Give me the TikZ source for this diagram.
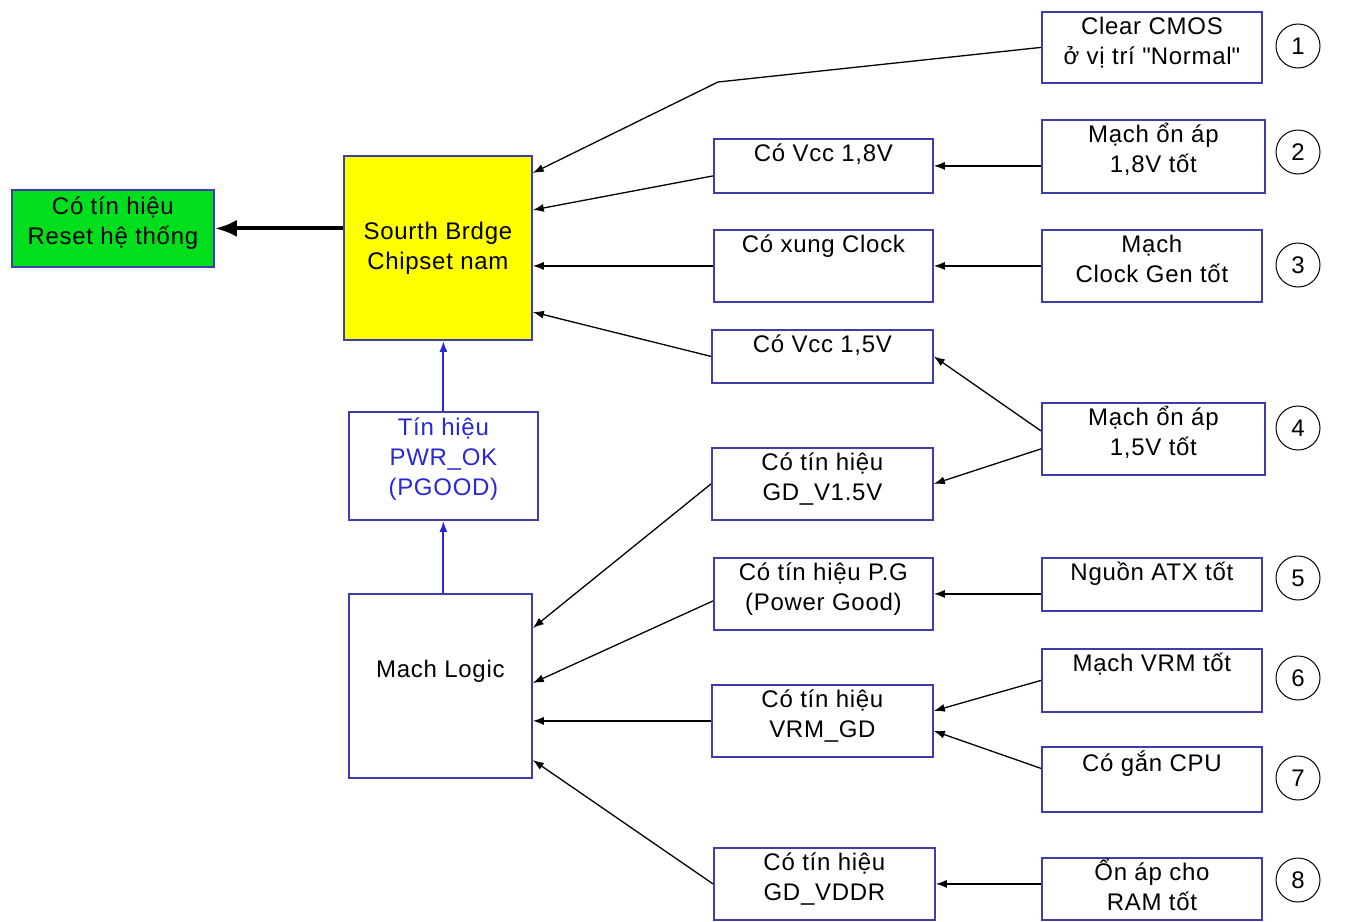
\documentclass[tikz,border=0pt]{standalone}
\usepackage{fontspec}
\setmainfont[LetterSpace=3]{Liberation Sans}
\usepackage{tikz}
\usetikzlibrary{arrows.meta, positioning, calc}

\definecolor{boxblue}{RGB}{62,62,170}
\definecolor{sigblue}{RGB}{40,40,215}
\definecolor{resetgreen}{RGB}{0,222,30}
\definecolor{sbyellow}{RGB}{255,255,0}

\begin{document}
\begin{tikzpicture}[x=1pt, y=-1pt,
  box/.style={draw=boxblue, line width=1.8pt, anchor=north west, inner sep=0pt},
  txt/.style={align=center, inner sep=0pt, font=\fontsize{24}{30}\selectfont},
  num/.style={circle, draw=black, line width=1pt, minimum size=44pt, inner sep=0pt, font=\fontsize{24}{30}\selectfont},
  arr/.style={line width=1.3pt, -{Latex[length=11pt,width=8pt]}},
  sigarr/.style={sigblue, line width=2pt, -{Latex[length=11pt,width=8pt]}},
  mainarr/.style={line width=4pt, -{Latex[length=22pt,width=17pt]}}
]
  \useasboundingbox[fill=white] (0,0) rectangle (1349,921);

  % Left column
  \node[box, fill=resetgreen, minimum width=202pt, minimum height=77pt] (reset) at (11,189) {};
  \node[txt, below=4pt of reset.north] (reset-t) {\strut Có tín hiệu\\Reset hệ thống};
  \node[box, fill=sbyellow, minimum width=188pt, minimum height=184pt] (sb) at (343,155) {};
  \node[txt] (sb-t) at (sb.center) {Sourth Brdge\\Chipset nam};
  \node[box, minimum width=189pt, minimum height=108pt] (pwr) at (348,411) {};
  \node[txt, text=sigblue, below=3pt of pwr.north] (pwr-t) {\strut Tín hiệu\\PWR\_OK\\(PGOOD)};
  \node[box, minimum width=183pt, minimum height=184pt] (logic) at (348,593) {};
  \node[txt] (logic-t) at ([yshift=15pt]logic.center) {Mach Logic};

  % Middle column
  \node[box, minimum width=219pt, minimum height=54pt] (vcc18) at (713,138) {};
  \node[txt, below=2pt of vcc18.north] (vcc18-t) {\strut Có Vcc 1,8V};
  \node[box, minimum width=219pt, minimum height=72pt] (clk) at (713,229) {};
  \node[txt, below=2pt of clk.north] (clk-t) {\strut Có xung Clock};
  \node[box, minimum width=221pt, minimum height=53pt] (vcc15) at (711,329) {};
  \node[txt, below=2pt of vcc15.north] (vcc15-t) {\strut Có Vcc 1,5V};
  \node[box, minimum width=221pt, minimum height=72pt] (gd15) at (711,447) {};
  \node[txt, below=2pt of gd15.north] (gd15-t) {\strut Có tín hiệu\\GD\_V1.5V};
  \node[box, minimum width=219pt, minimum height=72pt] (pg) at (713,557) {};
  \node[txt, below=2pt of pg.north] (pg-t) {\strut Có tín hiệu P.G\\(Power Good)};
  \node[box, minimum width=221pt, minimum height=72pt] (vrmgd) at (711,684) {};
  \node[txt, below=2pt of vrmgd.north] (vrmgd-t) {\strut Có tín hiệu\\VRM\_GD};
  \node[box, minimum width=221pt, minimum height=72pt] (vddr) at (713,847) {};
  \node[txt, below=2pt of vddr.north] (vddr-t) {\strut Có tín hiệu\\GD\_VDDR};

  % Right column
  \node[box, minimum width=220pt, minimum height=71pt] (cmos) at (1041,11) {};
  \node[txt, below=2pt of cmos.north] (cmos-t) {\strut Clear CMOS\\ở vị trí \textquotedbl Normal\textquotedbl};
  \node[box, minimum width=223pt, minimum height=73pt] (reg18) at (1041,119) {};
  \node[txt, below=2pt of reg18.north] (reg18-t) {\strut Mạch ổn áp\\1,8V tốt};
  \node[box, minimum width=220pt, minimum height=72pt] (clkgen) at (1041,229) {};
  \node[txt, below=2pt of clkgen.north] (clkgen-t) {\strut Mạch\\Clock Gen tốt};
  \node[box, minimum width=223pt, minimum height=72pt] (reg15) at (1041,402) {};
  \node[txt, below=2pt of reg15.north] (reg15-t) {\strut Mạch ổn áp\\1,5V tốt};
  \node[box, minimum width=220pt, minimum height=53pt] (atx) at (1041,557) {};
  \node[txt, below=2pt of atx.north] (atx-t) {\strut Nguồn ATX tốt};
  \node[box, minimum width=220pt, minimum height=63pt] (vrm) at (1041,648) {};
  \node[txt, below=2pt of vrm.north] (vrm-t) {\strut Mạch VRM tốt};
  \node[box, minimum width=220pt, minimum height=65pt] (cpu) at (1041,746) {};
  \node[txt, below=4pt of cpu.north] (cpu-t) {\strut Có gắn CPU};
  \node[box, minimum width=220pt, minimum height=62pt] (ram) at (1041,857) {};
  \node[txt, below=2pt of ram.north] (ram-t) {\strut Ổn áp cho\\RAM tốt};

  % Step numbers
  \foreach \n/\y in {1/46, 2/152, 3/265, 4/428, 5/578, 6/678, 7/778, 8/880} {
    \node[num] (step\n) at (1298,\y) {\n};
  }

  % Into the south bridge
  \coordinate (cmosbend) at (718,82);
  \draw[arr] (cmos.west) -- (cmosbend) -- ([yshift=-18pt]sb.north east);
  \draw[arr] ([yshift=-10pt]vcc18.west) -- ([yshift=-55pt]sb.north east);
  \draw[arr] (clk.west) -- (sb.east |- clk.west);
  \draw[arr] (vcc15.west) -- ([yshift=-157pt]sb.north east);

  % Regulators to the middle column
  \draw[arr] (reg18.west |- vcc18.east) -- (vcc18.east);
  \draw[arr] (clkgen.west) -- (clk.east);
  \draw[arr] ([yshift=8pt]reg15.west) -- (vcc15.east);
  \draw[arr] ([yshift=-10pt]reg15.west) -- (gd15.east);
  \draw[arr] (atx.west |- pg.east) -- (pg.east);
  \draw[arr] (vrm.west) -- ([yshift=10pt]vrmgd.east);
  \draw[arr] ([yshift=11pt]cpu.west) -- ([yshift=-10pt]vrmgd.east);
  \draw[arr] (ram.west |- vddr.east) -- (vddr.east);

  % Into the logic block
  \draw[arr] (gd15.west) -- ([yshift=-35pt]logic.north east);
  \draw[arr] ([yshift=-7pt]pg.west) -- ([yshift=-90pt]logic.north east);
  \draw[arr] (vrmgd.west) -- (logic.east |- vrmgd.west);
  \draw[arr] (vddr.west) -- ([yshift=-167pt]logic.north east);

  % PWR_OK chain and reset
  \draw[sigarr] (pwr.south |- logic.north) -- (pwr.south);
  \draw[sigarr] (pwr.north) -- (pwr.north |- sb.south);
  \draw[mainarr] (sb.west |- reset.east) -- (reset.east);
\end{tikzpicture}
\end{document}
